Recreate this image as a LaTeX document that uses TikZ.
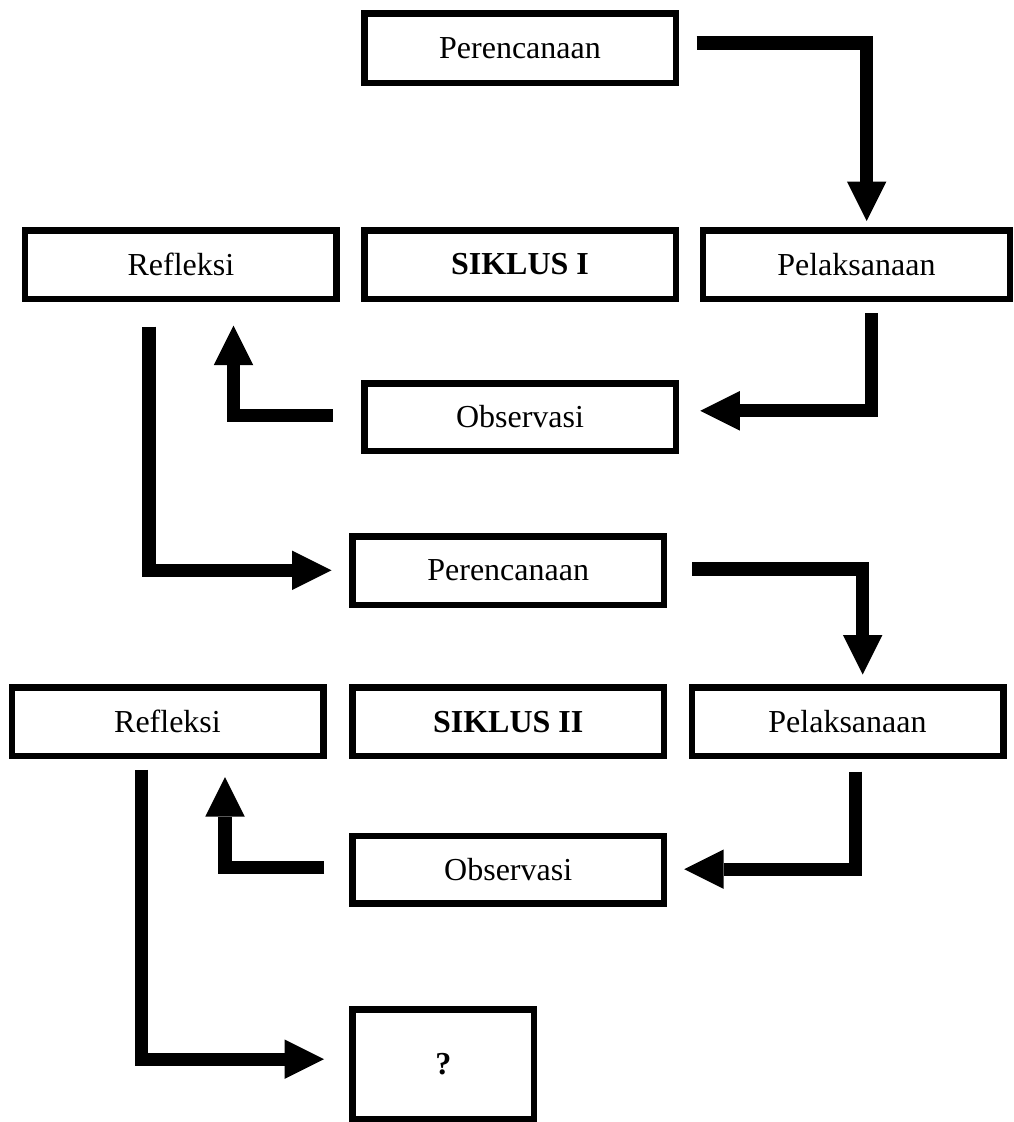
\documentclass[tikz,border=0pt]{standalone}
\usepackage{fontspec}
\setmainfont{Liberation Serif}
\usetikzlibrary{arrows.meta,calc}
\begin{document}
\begin{tikzpicture}[x=1pt,y=-1pt,
  box/.style={draw, line width=6.5pt, minimum width=311.5pt, minimum height=68.5pt,
    inner sep=0pt, font=\fontsize{32}{38}\selectfont},
  flow/.style={line width=13.3pt, line join=miter,
    -{Triangle[width=39.5pt,length=39.5pt,line width=0pt]}}]
\useasboundingbox (0,0) rectangle (1013,1122);
% Siklus I
\node[box, minimum height=69.5pt] (P1) at (520,48) {Perencanaan};
\node[box] (R1) at (180.9,264.5) {Refleksi};
\node[box] (S1) at (520,264.5) {\textbf{SIKLUS I}};
\node[box, minimum width=306.8pt] (L1) at (856.4,264.5) {Pelaksanaan};
\node[box, minimum height=67.5pt] (O1) at (520,417) {Observasi};
% Siklus II
\node[box] (P2) at (508.2,570.5) {Perencanaan};
\node[box] (R2) at (167.5,721.7) {Refleksi};
\node[box] (S2) at (508.2,721.7) {\textbf{SIKLUS II}};
\node[box] (L2) at (847.5,721.7) {Pelaksanaan};
\node[box, minimum height=67.5pt] (O2) at (508.2,869.7) {Observasi};
\node[box, minimum width=181.5pt, minimum height=109.5pt] (Q) at (443.3,1064) {\textbf{?}};
% connectors
\draw[flow] ($(P1.east)+(17.7,-5)$) -| ($(L1.north)+(10.3,-6)$);
\draw[flow] ($(L1.south)+(15.3,11.3)$) |- ($(O1.east)+(21.3,-6.2)$);
\draw[flow] ($(O1.west)+(-28.3,-1.3)$) -| ($(R1.south)+(52.6,23.7)$);
\draw[flow] ($(R1.south)+(-31.9,24.7)$) |- ($(P2.west)+(-17.6,-0.2)$);
\draw[flow] ($(P2.east)+(25,-1.5)$) -| ($(L2.north)+(15.2,-9.7)$);
\draw[flow] ($(L2.south)+(8.2,12.4)$) |- ($(O2.east)+(17,-0.5)$);
\draw[flow] ($(O2.west)+(-25,-2)$) -| ($(R2.south)+(57.5,18)$);
\draw[flow] ($(R2.south)+(-26,10.7)$) |- ($(Q.west)+(-25.3,-4.8)$);
\end{tikzpicture}
\end{document}
